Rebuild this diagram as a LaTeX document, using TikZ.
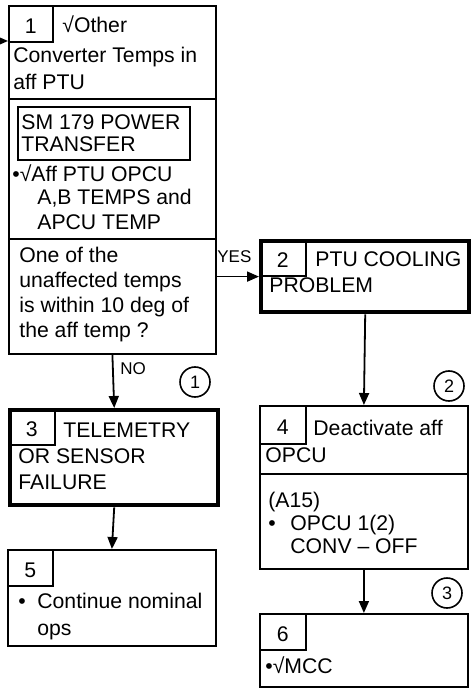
\documentclass[tikz,border=0pt]{standalone}
\usepackage{fontspec}
\setmainfont{Liberation Sans}
\usetikzlibrary{positioning,
                arrows.meta}

\begin{document}
\begin{tikzpicture}[x=0.5pt,y=-0.5pt]

\tikzset{
box/.style={
draw=black,
line width=0.9pt,
anchor=north west,
inner sep=0pt
},
keybox/.style={
box,
line width=2.2pt
},
numcell/.style={
draw=black,
line width=0.8pt,
anchor=north west,
inner sep=0pt,
minimum width=23pt,
minimum height=18pt,
text height=10pt,
text depth=0pt,
font=\fontsize{10.6}{13}\selectfont
},
txt/.style={
anchor=base west,
inner sep=0pt,
align=left,
font=\fontsize{10.6}{13}\selectfont
},
lbl/.style={
anchor=base west,
inner sep=0pt,
font=\fontsize{8.5}{10}\selectfont
},
marker/.style={
draw=black,
circle,
line width=0.8pt,
minimum size=15pt,
inner sep=0pt,
font=\fontsize{9}{10}\selectfont
},
arr/.style={
line width=0.9pt,
-{Triangle[length=6pt,width=5pt]}
}
}

\useasboundingbox (0,0) rectangle (474,688);

% multi-line texts are placed at the baseline of their last line

%--------------------------------------------------
% BOX 1
%--------------------------------------------------

\node[box,minimum width=103.5pt,minimum height=174pt] (b1) at (8,5) {};
\node[numcell,minimum width=22pt] (c1) at (8,5) {1};
\node[txt] (t1a) at (62,33) {√Other};
\node[txt,font=\fontsize{10.6}{13.5}\selectfont] (t1b) at (13,90) {Converter Temps in\\aff PTU};
\draw[line width=0.9pt] (8,99) -- (215,99);

\node[box,minimum width=86pt,minimum height=26.5pt] (sm) at (17,106) {};
\node[txt,font=\fontsize{10.6}{11}\selectfont] (t1c) at (21,152) {SM 179 POWER\\TRANSFER};
\node[txt] (t1d) at (12,182) {•√Aff PTU OPCU};
\node[txt,font=\fontsize{10.6}{12.5}\selectfont] (t1e) at (37,230) {A,B TEMPS and\\APCU TEMP};
\draw[line width=0.9pt] (8,239) -- (215,239);

\node[txt,font=\fontsize{10.6}{12.5}\selectfont] (t1f) at (19,338)
{One of the\\unaffected temps\\is within 10 deg of\\the aff temp ?};

%--------------------------------------------------
% BOX 2
%--------------------------------------------------

\node[keybox,minimum width=104pt,minimum height=35.5pt] (b2) at (259,239) {};
\node[numcell] (c2) at (259,239) {2};
\node[txt] (t2a) at (315,267) {PTU COOLING};
\node[txt] (t2b) at (269,293) {PROBLEM};

%--------------------------------------------------
% BOX 3
%--------------------------------------------------

\node[keybox,minimum width=104pt,minimum height=47.5pt] (b3) at (8,408) {};
\node[numcell] (c3) at (8,408) {3};
\node[txt] (t3a) at (63,437) {TELEMETRY};
\node[txt] (t3b) at (18,489) {OR SENSOR\\FAILURE};

%--------------------------------------------------
% BOX 4
%--------------------------------------------------

\node[box,minimum width=104pt,minimum height=81.5pt] (b4) at (259,405) {};
\node[numcell,minimum height=19pt] (c4) at (259,405) {4};
\node[txt] (t4a) at (313,435) {Deactivate aff};
\node[txt] (t4b) at (265,462) {OPCU};
\draw[line width=0.9pt] (259,474) -- (467,474);
\node[txt] (t4c) at (268,507) {(A15)};
\node[txt] (t4d) at (268,530) {•};
\node[txt,font=\fontsize{10.6}{11.5}\selectfont] (t4e) at (290,553) {OPCU 1(2)\\CONV – OFF};

%--------------------------------------------------
% BOX 5
%--------------------------------------------------

\node[box,minimum width=104pt,minimum height=48pt] (b5) at (7,549) {};
\node[numcell,minimum width=22.5pt] (c5) at (7,549) {5};
\node[txt] (t5a) at (18,608) {•};
\node[txt,font=\fontsize{10.6}{13.5}\selectfont] (t5b) at (37,635) {Continue nominal\\ops};

%--------------------------------------------------
% BOX 6
%--------------------------------------------------

\node[box,minimum width=104pt,minimum height=36.5pt] (b6) at (259,613) {};
\node[numcell] (c6) at (259,613) {6};
\node[txt] (t6a) at (265,673) {•√MCC};

%--------------------------------------------------
% MARKERS
%--------------------------------------------------

\node[marker] (m1) at (195,382) {1};
\node[marker] (m2) at (449,386) {2};
\node[marker] (m3) at (447,593) {3};

%--------------------------------------------------
% ARROWS
%--------------------------------------------------

\coordinate (entry) at (-8,41);
\draw[arr] (entry) -- (entry -| b1.west);

\draw[arr] (c2.south -| b1.east) -- (c2.south -| b2.west);
\node[lbl] (yes) at (217,263) {YES};

\draw[arr] (b1.south) -- (b3.north);
\node[lbl] (no) at (120,374) {NO};

\draw[arr] (b3.south) -- (b5.north);
\draw[arr] (b2.south) -- (b4.north);
\draw[arr] (b4.south) -- (b6.north);

\end{tikzpicture}
\end{document}
